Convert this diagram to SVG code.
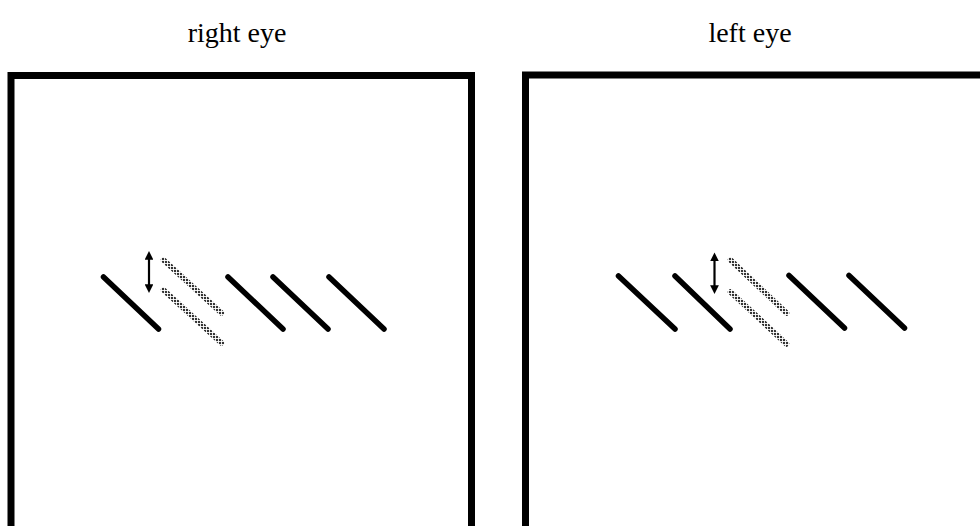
<svg xmlns="http://www.w3.org/2000/svg" width="980" height="526" viewBox="0 0 980 526">
<style>
.lbl{font-family:"Liberation Serif","Times New Roman",serif;font-size:28px;fill:#000;text-anchor:middle}
.frame{fill:none;stroke:#000;stroke-width:7}
.bar{stroke:#000;stroke-width:5.5;stroke-linecap:round;fill:none}
.ghost{stroke:url(#dots);stroke-width:5.5;stroke-linecap:round;fill:none}
.shaft{stroke:#000;stroke-width:2.2;fill:none}
</style>
<defs>
<pattern id="dots" width="3" height="3" patternUnits="userSpaceOnUse">
<rect width="3" height="3" fill="#e8e8e8"/>
<rect width="2" height="2" fill="#333"/>
<rect x="2" y="2" width="1" height="1" fill="#fff"/>
</pattern>
<marker id="ah" viewBox="0 0 10 10" refX="2" refY="5" markerWidth="4" markerHeight="4" orient="auto-start-reverse" markerUnits="strokeWidth">
<path d="M0,0 L10,5 L0,10 Z" fill="#000"/>
</marker>
</defs>
<g id="right-eye">
<text class="lbl" x="237" y="42">right eye</text>
<path class="frame" d="M11,540 V75.5 H471.5 V540"/>
<line class="bar" x1="103.5" y1="277" x2="158.5" y2="329"/>
<line class="ghost" x1="163.5" y1="260" x2="221.5" y2="313"/>
<line class="ghost" x1="163.5" y1="290" x2="221.5" y2="343"/>
<line class="shaft" x1="149" y1="258" x2="149" y2="286" marker-start="url(#ah)" marker-end="url(#ah)"/>
<line class="bar" x1="228" y1="277" x2="283" y2="329"/>
<line class="bar" x1="273" y1="277" x2="328" y2="329"/>
<line class="bar" x1="329" y1="277" x2="384" y2="329"/>
</g>
<g id="left-eye">
<text class="lbl" x="750" y="42">left eye</text>
<path class="frame" d="M525.5,540 V75 H990"/>
<line class="bar" x1="618.5" y1="276" x2="675" y2="329"/>
<line class="bar" x1="675" y1="276" x2="730" y2="329"/>
<line class="ghost" x1="730.5" y1="260" x2="786.5" y2="313"/>
<line class="ghost" x1="730.5" y1="292" x2="786.5" y2="344"/>
<line class="shaft" x1="714.5" y1="259.5" x2="714.5" y2="287" marker-start="url(#ah)" marker-end="url(#ah)"/>
<line class="bar" x1="789" y1="275.5" x2="844.5" y2="328"/>
<line class="bar" x1="849" y1="275.5" x2="904.5" y2="328"/>
</g>
</svg>
